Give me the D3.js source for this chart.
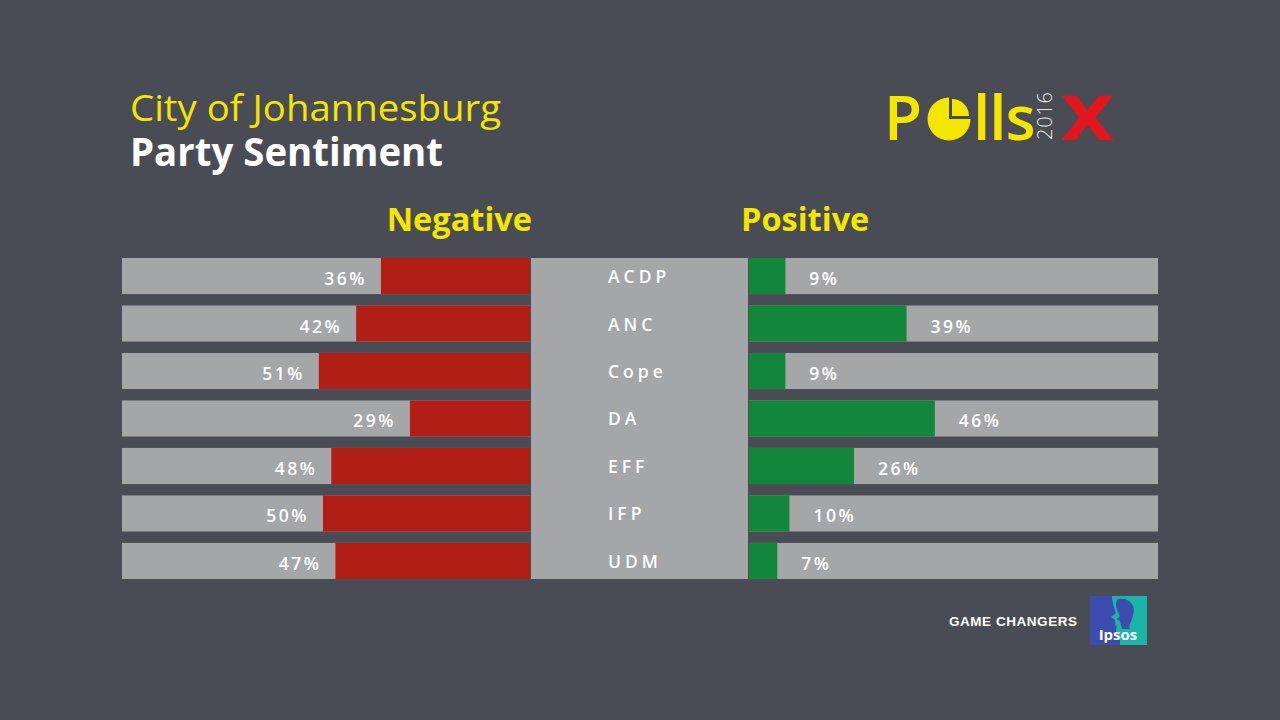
<!DOCTYPE html>
<html>
<head>
<meta charset="utf-8">
<script src="https://cdn.jsdelivr.net/npm/d3@7"></script>
<style>
  html, body { margin: 0; padding: 0; background: #4a4c55; }
  svg { display: block; }
</style>
</head>
<body>
<div id="main"></div>
<script>
const parties = ['ACDP', 'ANC', 'Cope', 'DA', 'EFF', 'IFP', 'UDM']
const negative = [36, 42, 51, 29, 48, 50, 47]
const positive = [9, 39, 9, 46, 26, 10, 7]

const w = 1280, h = 720
const yellow = '#f4e600', red = '#b11e16', green = '#12863a', grey = '#a5a6a8'
const font = '"Open Sans", "Noto Sans", sans-serif'

const svg = d3.select('#main')
            .append('svg')
            .attr('width', w)
            .attr('height', h)

svg.append('rect')
    .attr('width', w)
    .attr('height', h)
    .attr('fill', '#4a4c55')

// titles
svg.append('text')
    .text('City of Johannesburg')
    .attr('x', 130)
    .attr('y', 121)
    .attr('fill', yellow)
    .attr('font-family', font)
    .attr('font-size', 36)
    .attr('textLength', 371)
    .attr('lengthAdjust', 'spacingAndGlyphs')

svg.append('text')
    .text('Party Sentiment')
    .attr('x', 130)
    .attr('y', 166)
    .attr('fill', '#ffffff')
    .attr('font-family', font)
    .attr('font-weight', 700)
    .attr('font-size', 39)
    .attr('textLength', 313)
    .attr('lengthAdjust', 'spacingAndGlyphs')

svg.append('text')
    .text('Negative')
    .attr('x', 532)
    .attr('y', 231)
    .attr('text-anchor', 'end')
    .attr('fill', yellow)
    .attr('font-family', font)
    .attr('font-weight', 700)
    .attr('font-size', 32.5)

svg.append('text')
    .text('Positive')
    .attr('x', 741)
    .attr('y', 231)
    .attr('fill', yellow)
    .attr('font-family', font)
    .attr('font-weight', 700)
    .attr('font-size', 32.5)

// scales
const yScale = d3.scaleBand()
                .domain(parties)
                .range([258, 579])
                .paddingInner(0.24)

const negScale = d3.scaleLinear()
                .domain([0, 100])
                .range([530, 116])
const posScale = d3.scaleLinear()
                .domain([0, 100])
                .range([749, 1153])

// middle panel (behind the party names)
svg.append('rect')
    .attr('x', 531)
    .attr('y', yScale.range()[0])
    .attr('width', 748 - 531)
    .attr('height', yScale.range()[1] - yScale.range()[0])
    .attr('fill', grey)

const rows = svg.append('g')
                .selectAll('g')
                .data(parties)
                .enter()
                .append('g')
                .attr('transform', d => 'translate(0,' + yScale(d) + ')')

const bw = yScale.bandwidth()

// grey backgrounds
rows.append('rect')
    .attr('x', 122)
    .attr('width', 530 - 122)
    .attr('height', bw)
    .attr('fill', grey)
rows.append('rect')
    .attr('x', 749)
    .attr('width', 1158 - 749)
    .attr('height', bw)
    .attr('fill', grey)

// bars
rows.append('rect')
    .attr('x', (d, i) => negScale(negative[i]))
    .attr('width', (d, i) => negScale(0) - negScale(negative[i]))
    .attr('height', bw)
    .attr('fill', red)

rows.append('rect')
    .attr('x', posScale(0))
    .attr('width', (d, i) => posScale(positive[i]) - posScale(0))
    .attr('height', bw)
    .attr('fill', green)

const labelStyle = sel => sel
    .attr('fill', '#ffffff')
    .attr('font-family', font)
    .attr('font-weight', 600)
    .attr('font-size', 17.5)
    .attr('letter-spacing', 2.5)
    .attr('dominant-baseline', 'central')

rows.append('text')
    .text((d, i) => negative[i] + '%')
    .attr('x', (d, i) => negScale(negative[i]) - 14)
    .attr('y', bw / 2 + 2)
    .attr('text-anchor', 'end')
    .call(labelStyle)

rows.append('text')
    .text((d, i) => positive[i] + '%')
    .attr('x', (d, i) => posScale(positive[i]) + 24)
    .attr('y', bw / 2 + 2)
    .call(labelStyle)

rows.append('text')
    .text(d => d)
    .attr('x', 608)
    .attr('y', bw / 2)
    .call(labelStyle)
    .attr('letter-spacing', 4)

// PollsX logo
const logo = svg.append('g')
logo.append('text')
    .text('P')
    .attr('x', 884)
    .attr('y', 140)
    .attr('fill', yellow)
    .attr('font-family', font)
    .attr('font-weight', 600)
    .attr('font-size', 62)
const arc = d3.arc().innerRadius(0).outerRadius(21.5)
logo.append('path')
    .attr('d', arc({startAngle: Math.PI / 2, endAngle: Math.PI * 2}))
    .attr('transform', 'translate(949,119)')
    .attr('fill', yellow)
logo.append('path')
    .attr('d', d3.arc().innerRadius(0).outerRadius(17)({startAngle: 0, endAngle: Math.PI / 2}))
    .attr('transform', 'translate(952,116)')
    .attr('fill', yellow)
logo.append('text')
    .text('lls')
    .attr('x', 973)
    .attr('y', 140)
    .attr('fill', yellow)
    .attr('font-family', font)
    .attr('font-weight', 600)
    .attr('font-size', 62)
    .attr('letter-spacing', -1)
logo.append('text')
    .text('2016')
    .attr('transform', 'translate(1052,140) rotate(-90)')
    .attr('fill', '#e6e6e6')
    .attr('font-family', font)
    .attr('font-weight', 300)
    .attr('font-size', 20)
    .attr('textLength', 48)
logo.append('text')
    .text('X')
    .attr('x', 1060)
    .attr('y', 140)
    .attr('fill', '#e2161d')
    .attr('font-family', '"DejaVu Sans", sans-serif')
    .attr('font-weight', 900)
    .attr('font-size', 60)
    .attr('textLength', 55)
    .attr('lengthAdjust', 'spacingAndGlyphs')

// footer
svg.append('text')
    .text('GAME CHANGERS')
    .attr('x', 949)
    .attr('y', 626)
    .attr('fill', '#ffffff')
    .attr('font-family', '"Liberation Sans", Arial, sans-serif')
    .attr('font-weight', 700)
    .attr('font-size', 13.5)
    .attr('textLength', 128)

const ipsos = svg.append('g').attr('transform', 'translate(1090,596)')
ipsos.append('rect')
    .attr('width', 57)
    .attr('height', 49)
    .attr('fill', '#3b4cae')
ipsos.append('path')
    .attr('d', 'M22,0 L57,0 L57,49 L30,49 L30,40 C26,38 25,34 27,31 C24,29 26,26 25,24 L21,21 L26,17 C23,9 22,4 22,0 Z')
    .attr('fill', '#1bb5a8')
ipsos.append('path')
    .attr('d', 'M28,3 C40,1 46,10 43,19 C42,26 38,28 40,33 L32,33 C31,29 30,27 30,25 L27,23 L30,20 C27,14 24,8 28,3 Z')
    .attr('fill', '#3b4cae')
ipsos.append('text')
    .text('Ipsos')
    .attr('x', 28)
    .attr('y', 44)
    .attr('text-anchor', 'middle')
    .attr('fill', '#ffffff')
    .attr('font-family', font)
    .attr('font-weight', 700)
    .attr('font-size', 15)
</script>
</body>
</html>
